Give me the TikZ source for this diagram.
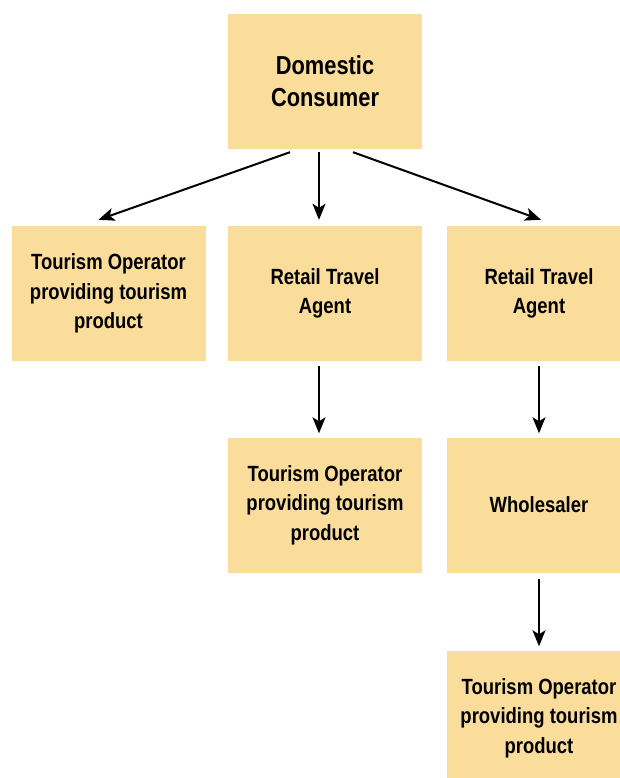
\documentclass[tikz,border=0pt]{standalone}
\usepackage{fontspec}
\usepackage{xcolor}
\usepackage{tikz}
\usetikzlibrary{arrows.meta,positioning}
\newfontfamily\boxfont{Liberation Sans}[FakeStretch=0.84]
\definecolor{boxfill}{HTML}{FADC9B}
\definecolor{ink}{HTML}{000000}
\tikzset{
  box/.style={fill=boxfill, draw=none, minimum width=194pt, minimum height=135pt,
    align=center, text=ink, font=\boxfont\bfseries\fontsize{22}{29.5}\selectfont},
  rbox/.style={box, minimum width=184pt},
  topbox/.style={box, font=\boxfont\bfseries\fontsize{26}{32}\selectfont},
  arr/.style={draw=ink, line width=2pt, -{Stealth[length=16pt,width=13pt,inset=4pt]}},
}
\begin{document}
\begin{tikzpicture}[x=1pt,y=-1pt]
  \useasboundingbox (0,0) rectangle (619,778);
  \node[topbox] (dom) at (325,81.5) {Domestic\\Consumer};
  \node[box] (opA) at (108.5,293.5) {Tourism Operator\\providing tourism\\product};
  \node[box] (rtaM) at (325,293.5) {Retail Travel\\Agent};
  \node[rbox] (rtaR) at (539,293.5) {Retail Travel\\Agent};
  \node[box] (opM) at (325,505) {Tourism Operator\\providing tourism\\product};
  \node[rbox] (whole) at (539,505) {Wholesaler};
  \node[rbox] (opR) at (539,718) {Tourism Operator\\providing tourism\\product};
  % first level
  \draw[arr] ([xshift=-35pt,yshift=-3pt]dom.south) -- ([xshift=-10pt,yshift=6pt]opA.north);
  \draw[arr] ([xshift=-6pt,yshift=-3pt]dom.south) -- ([xshift=-6pt,yshift=6pt]rtaM.north);
  \draw[arr] ([xshift=28pt,yshift=-3pt]dom.south) -- ([xshift=2pt,yshift=6pt]rtaR.north);
  % chains below
  \draw[arr] ([xshift=-6pt,yshift=-5pt]rtaM.south) -- ([xshift=-6pt,yshift=4pt]opM.north);
  \draw[arr] ([xshift=0pt,yshift=-5pt]rtaR.south) -- ([xshift=0pt,yshift=4pt]whole.north);
  \draw[arr] ([xshift=0pt,yshift=-6pt]whole.south) -- ([xshift=0pt,yshift=4pt]opR.north);
\end{tikzpicture}
\end{document}
